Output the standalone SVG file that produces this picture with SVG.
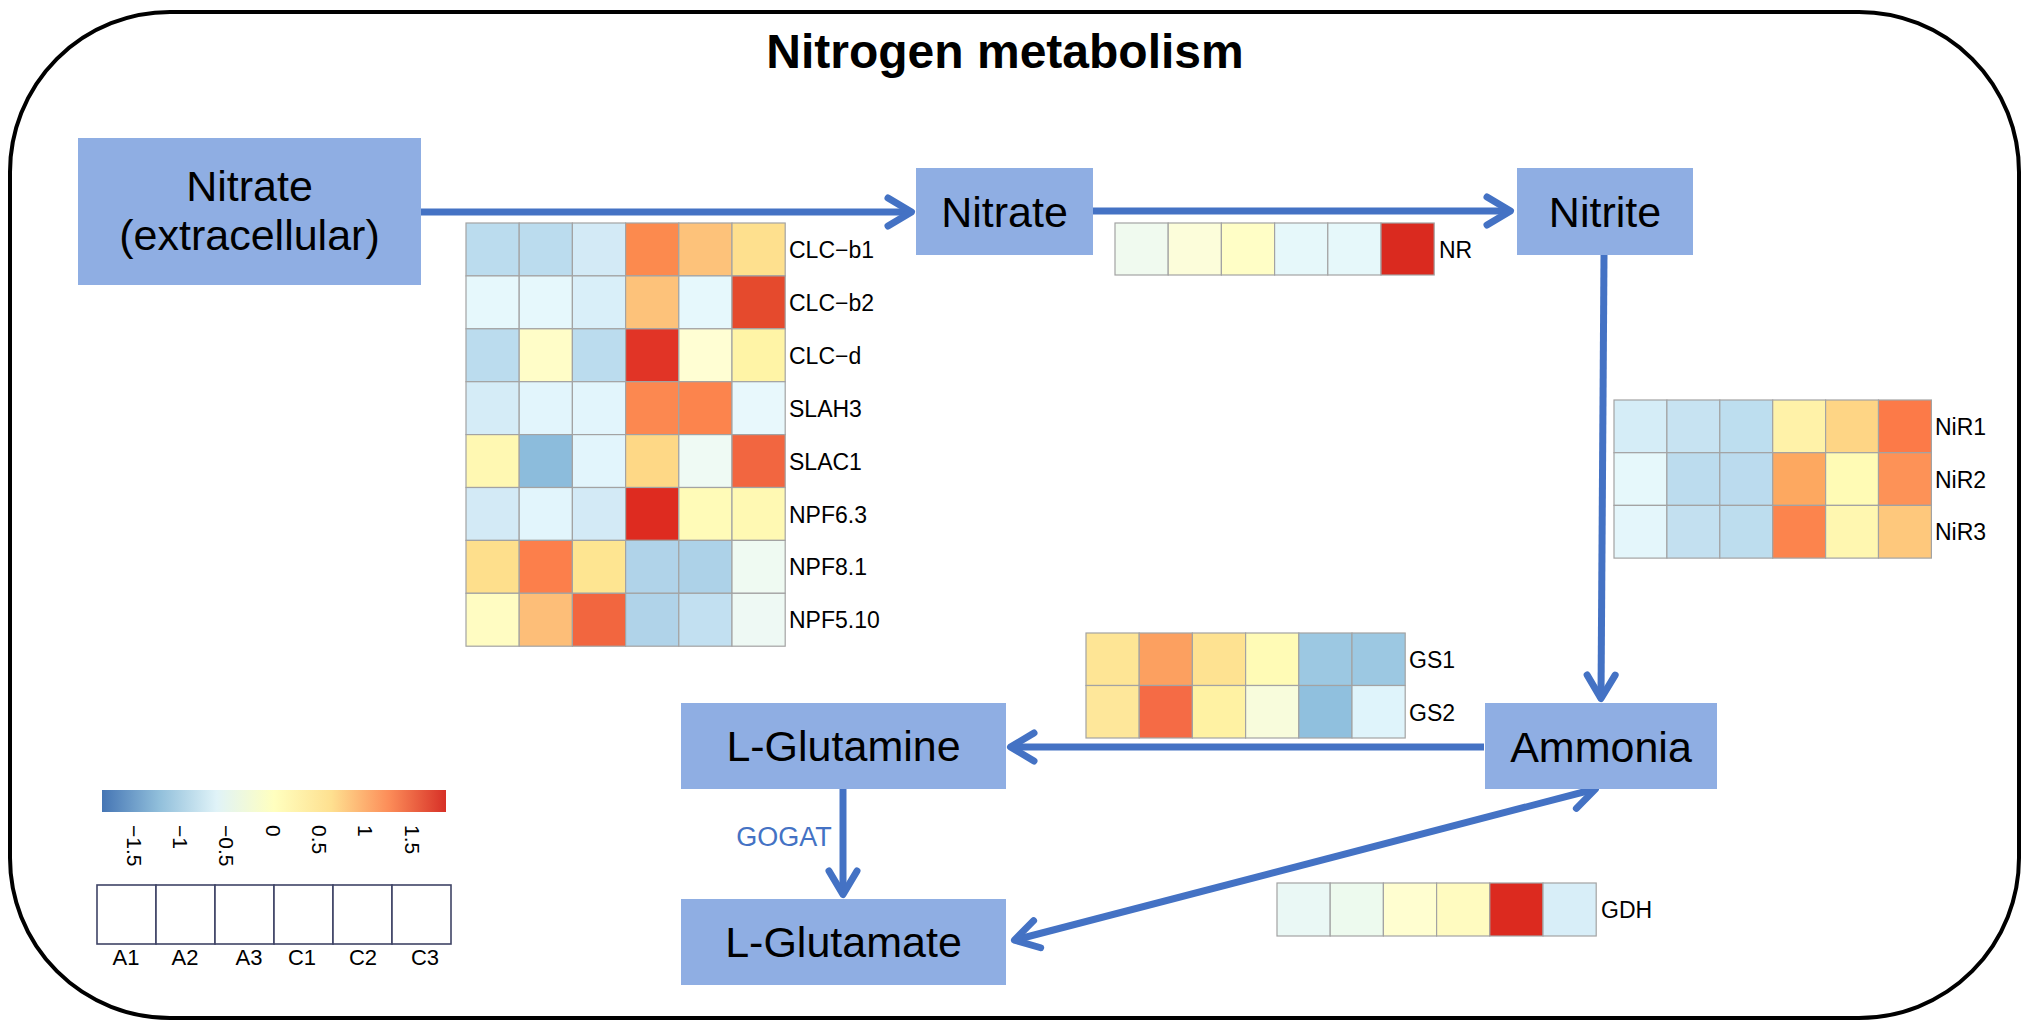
<svg xmlns="http://www.w3.org/2000/svg" width="2029" height="1027" viewBox="0 0 2029 1027">
<style>
.node{fill:#8FAEE3;}
.nt{font-family:"Liberation Sans",Arial,sans-serif;font-size:43px;fill:#000;text-anchor:middle;}
.lab{font-family:"Liberation Sans",Arial,sans-serif;font-size:23px;fill:#000;}
.tick{font-family:"Liberation Sans",Arial,sans-serif;font-size:21px;fill:#000;}
.sl{font-family:"Liberation Sans",Arial,sans-serif;font-size:22px;fill:#000;text-anchor:middle;}
.hm rect{stroke:#A3A3A3;stroke-width:1.2;}
.conn{fill:none;stroke:#4472C4;stroke-width:7;}
.lb rect{fill:#fff;stroke:#3F4466;stroke-width:1.6;}
</style>
<defs>
<marker id="arr" viewBox="-30 -20 40 40" refX="0" refY="0" markerWidth="40" markerHeight="40" markerUnits="userSpaceOnUse" orient="auto-start-reverse" overflow="visible">
<path d="M-21,-14 L2.5,0 L-21,14" fill="none" stroke="#4472C4" stroke-width="7" stroke-linecap="round" stroke-linejoin="round"/>
</marker>
<linearGradient id="cbar" x1="0" y1="0" x2="1" y2="0">
<stop offset="0" stop-color="#4575B4"/>
<stop offset="0.1667" stop-color="#91BFDB"/>
<stop offset="0.3333" stop-color="#E0F3F8"/>
<stop offset="0.5" stop-color="#FFFFBF"/>
<stop offset="0.6667" stop-color="#FEE090"/>
<stop offset="0.8333" stop-color="#FC8D59"/>
<stop offset="1" stop-color="#D73027"/>
</linearGradient>
</defs>
<rect x="0" y="0" width="2029" height="1027" fill="#fff"/>
<rect id="frame" x="10" y="12" width="2009" height="1006" rx="160" ry="160" fill="none" stroke="#000" stroke-width="4"/>
<text x="1005" y="68" font-family="Liberation Sans,Arial,sans-serif" font-size="48" font-weight="bold" text-anchor="middle">Nitrogen metabolism</text>

<g id="connectors">
<line class="conn" x1="421" y1="212" x2="909" y2="212" marker-end="url(#arr)"/>
<line class="conn" x1="1093" y1="211" x2="1508" y2="211" marker-end="url(#arr)"/>
<line class="conn" x1="1604" y1="255" x2="1601" y2="696" marker-end="url(#arr)"/>
<line class="conn" x1="1484" y1="747" x2="1013" y2="747" marker-end="url(#arr)"/>
<line class="conn" x1="843" y1="789" x2="843" y2="892" marker-end="url(#arr)"/>
<line class="conn" x1="1016.8" y1="939.5" x2="1593.2" y2="789.5" marker-start="url(#arr)" marker-end="url(#arr)"/>
<text x="784" y="846" font-family="Liberation Sans,Arial,sans-serif" font-size="27" fill="#4472C4" text-anchor="middle">GOGAT</text>
</g>

<g id="node-nitrate-ext">
<rect class="node" x="78" y="138" width="343" height="147"/>
<text class="nt" x="249.5" y="201" font-size="42">Nitrate</text>
<text class="nt" x="249.5" y="250" font-size="42">(extracellular)</text>
</g>
<g id="node-nitrate">
<rect class="node" x="916" y="168" width="177" height="87"/>
<text class="nt" x="1004.5" y="227">Nitrate</text>
</g>
<g id="node-nitrite">
<rect class="node" x="1517" y="168" width="176" height="87"/>
<text class="nt" x="1605" y="227">Nitrite</text>
</g>
<g id="node-ammonia">
<rect class="node" x="1485" y="703" width="232" height="86"/>
<text class="nt" x="1601" y="762">Ammonia</text>
</g>
<g id="node-glutamine">
<rect class="node" x="681" y="703" width="325" height="86"/>
<text class="nt" x="843.5" y="761">L-Glutamine</text>
</g>
<g id="node-glutamate">
<rect class="node" x="681" y="899" width="325" height="86"/>
<text class="nt" x="843.5" y="957">L-Glutamate</text>
</g>

<g id="heatmap-transporters" class="hm">
<rect x="466" y="223" width="53.2" height="52.9" fill="#BBDCEE"/>
<rect x="519.2" y="223" width="53.2" height="52.9" fill="#BBDCEE"/>
<rect x="572.4" y="223" width="53.2" height="52.9" fill="#D3EAF6"/>
<rect x="625.6" y="223" width="53.2" height="52.9" fill="#FC8A4E"/>
<rect x="678.8" y="223" width="53.2" height="52.9" fill="#FDC27A"/>
<rect x="732" y="223" width="53.2" height="52.9" fill="#FEE08E"/>

<rect x="466" y="275.9" width="53.2" height="52.9" fill="#E6F8FC"/>
<rect x="519.2" y="275.9" width="53.2" height="52.9" fill="#E6F8FC"/>
<rect x="572.4" y="275.9" width="53.2" height="52.9" fill="#D9EFF9"/>
<rect x="625.6" y="275.9" width="53.2" height="52.9" fill="#FDC27A"/>
<rect x="678.8" y="275.9" width="53.2" height="52.9" fill="#E6F8FC"/>
<rect x="732" y="275.9" width="53.2" height="52.9" fill="#E54A2D"/>

<rect x="466" y="328.8" width="53.2" height="52.9" fill="#BBDCEE"/>
<rect x="519.2" y="328.8" width="53.2" height="52.9" fill="#FFFDC8"/>
<rect x="572.4" y="328.8" width="53.2" height="52.9" fill="#BBDCEE"/>
<rect x="625.6" y="328.8" width="53.2" height="52.9" fill="#E13426"/>
<rect x="678.8" y="328.8" width="53.2" height="52.9" fill="#FFFED3"/>
<rect x="732" y="328.8" width="53.2" height="52.9" fill="#FFF4A6"/>

<rect x="466" y="381.7" width="53.2" height="52.9" fill="#D5ECF7"/>
<rect x="519.2" y="381.7" width="53.2" height="52.9" fill="#E2F5FC"/>
<rect x="572.4" y="381.7" width="53.2" height="52.9" fill="#E2F5FC"/>
<rect x="625.6" y="381.7" width="53.2" height="52.9" fill="#FC8850"/>
<rect x="678.8" y="381.7" width="53.2" height="52.9" fill="#FC844D"/>
<rect x="732" y="381.7" width="53.2" height="52.9" fill="#E8F8FC"/>

<rect x="466" y="434.6" width="53.2" height="52.9" fill="#FFF8B2"/>
<rect x="519.2" y="434.6" width="53.2" height="52.9" fill="#8CBCDC"/>
<rect x="572.4" y="434.6" width="53.2" height="52.9" fill="#E2F5FC"/>
<rect x="625.6" y="434.6" width="53.2" height="52.9" fill="#FED886"/>
<rect x="678.8" y="434.6" width="53.2" height="52.9" fill="#EFFAF4"/>
<rect x="732" y="434.6" width="53.2" height="52.9" fill="#F26640"/>

<rect x="466" y="487.5" width="53.2" height="52.9" fill="#D3EAF6"/>
<rect x="519.2" y="487.5" width="53.2" height="52.9" fill="#E2F5FC"/>
<rect x="572.4" y="487.5" width="53.2" height="52.9" fill="#D3EAF6"/>
<rect x="625.6" y="487.5" width="53.2" height="52.9" fill="#DE2B20"/>
<rect x="678.8" y="487.5" width="53.2" height="52.9" fill="#FFFBB8"/>
<rect x="732" y="487.5" width="53.2" height="52.9" fill="#FFF9B3"/>

<rect x="466" y="540.4" width="53.2" height="52.9" fill="#FEDF8C"/>
<rect x="519.2" y="540.4" width="53.2" height="52.9" fill="#FC7F4B"/>
<rect x="572.4" y="540.4" width="53.2" height="52.9" fill="#FEE591"/>
<rect x="625.6" y="540.4" width="53.2" height="52.9" fill="#B0D3E9"/>
<rect x="678.8" y="540.4" width="53.2" height="52.9" fill="#ADD2E8"/>
<rect x="732" y="540.4" width="53.2" height="52.9" fill="#EFFAF2"/>

<rect x="466" y="593.3" width="53.2" height="52.9" fill="#FFFCC2"/>
<rect x="519.2" y="593.3" width="53.2" height="52.9" fill="#FDBE78"/>
<rect x="572.4" y="593.3" width="53.2" height="52.9" fill="#F2663F"/>
<rect x="625.6" y="593.3" width="53.2" height="52.9" fill="#B0D3E9"/>
<rect x="678.8" y="593.3" width="53.2" height="52.9" fill="#C2E0F1"/>
<rect x="732" y="593.3" width="53.2" height="52.9" fill="#EEF9F4"/>
<text class="lab" x="789" y="258">CLC−b1</text>
<text class="lab" x="789" y="310.9">CLC−b2</text>
<text class="lab" x="789" y="363.8">CLC−d</text>
<text class="lab" x="789" y="416.7">SLAH3</text>
<text class="lab" x="789" y="469.6">SLAC1</text>
<text class="lab" x="789" y="522.5">NPF6.3</text>
<text class="lab" x="789" y="575.4">NPF8.1</text>
<text class="lab" x="789" y="628.3">NPF5.10</text>
</g>

<g id="heatmap-NR" class="hm">
<rect x="1115" y="223" width="53.2" height="52" fill="#F0FAEF"/>
<rect x="1168.2" y="223" width="53.2" height="52" fill="#FCFDDA"/>
<rect x="1221.4" y="223" width="53.2" height="52" fill="#FFFEC6"/>
<rect x="1274.6" y="223" width="53.2" height="52" fill="#E6F8FA"/>
<rect x="1327.8" y="223" width="53.2" height="52" fill="#E6F8FA"/>
<rect x="1381" y="223" width="53.2" height="52" fill="#DA2A1F"/>
<text class="lab" x="1439" y="257.5">NR</text>
</g>

<g id="heatmap-NiR" class="hm">
<rect x="1614" y="400" width="52.9" height="52.7" fill="#D5EDF7"/>
<rect x="1666.9" y="400" width="52.9" height="52.7" fill="#C7E3F2"/>
<rect x="1719.8" y="400" width="52.9" height="52.7" fill="#BDDEEF"/>
<rect x="1772.7" y="400" width="52.9" height="52.7" fill="#FFF2A8"/>
<rect x="1825.6" y="400" width="52.9" height="52.7" fill="#FED585"/>
<rect x="1878.5" y="400" width="52.9" height="52.7" fill="#FC7A48"/>

<rect x="1614" y="452.7" width="52.9" height="52.7" fill="#E6F8FB"/>
<rect x="1666.9" y="452.7" width="52.9" height="52.7" fill="#BCDCEE"/>
<rect x="1719.8" y="452.7" width="52.9" height="52.7" fill="#BBDBEE"/>
<rect x="1772.7" y="452.7" width="52.9" height="52.7" fill="#FDA860"/>
<rect x="1825.6" y="452.7" width="52.9" height="52.7" fill="#FFFBB5"/>
<rect x="1878.5" y="452.7" width="52.9" height="52.7" fill="#FD9257"/>

<rect x="1614" y="505.4" width="52.9" height="52.7" fill="#E4F6FB"/>
<rect x="1666.9" y="505.4" width="52.9" height="52.7" fill="#C3E0F0"/>
<rect x="1719.8" y="505.4" width="52.9" height="52.7" fill="#BDDDEE"/>
<rect x="1772.7" y="505.4" width="52.9" height="52.7" fill="#FC844D"/>
<rect x="1825.6" y="505.4" width="52.9" height="52.7" fill="#FFF7B0"/>
<rect x="1878.5" y="505.4" width="52.9" height="52.7" fill="#FEC87C"/>
<text class="lab" x="1935" y="434.8">NiR1</text>
<text class="lab" x="1935" y="487.5">NiR2</text>
<text class="lab" x="1935" y="540.2">NiR3</text>
</g>

<g id="heatmap-GS" class="hm">
<rect x="1086" y="633" width="53.2" height="52.5" fill="#FEE595"/>
<rect x="1139.2" y="633" width="53.2" height="52.5" fill="#FCA060"/>
<rect x="1192.4" y="633" width="53.2" height="52.5" fill="#FEE291"/>
<rect x="1245.6" y="633" width="53.2" height="52.5" fill="#FFFBB6"/>
<rect x="1298.8" y="633" width="53.2" height="52.5" fill="#9CC8E2"/>
<rect x="1352" y="633" width="53.2" height="52.5" fill="#9CC8E2"/>

<rect x="1086" y="685.5" width="53.2" height="52.5" fill="#FEE79A"/>
<rect x="1139.2" y="685.5" width="53.2" height="52.5" fill="#F56B45"/>
<rect x="1192.4" y="685.5" width="53.2" height="52.5" fill="#FFF2A3"/>
<rect x="1245.6" y="685.5" width="53.2" height="52.5" fill="#F8FCDC"/>
<rect x="1298.8" y="685.5" width="53.2" height="52.5" fill="#90C0DE"/>
<rect x="1352" y="685.5" width="53.2" height="52.5" fill="#DFF4FB"/>
<text class="lab" x="1409" y="667.5">GS1</text>
<text class="lab" x="1409" y="720.5">GS2</text>
</g>

<g id="heatmap-GDH" class="hm">
<rect x="1277" y="883" width="53.2" height="53" fill="#EAF8F5"/>
<rect x="1330.2" y="883" width="53.2" height="53" fill="#EDFAEE"/>
<rect x="1383.4" y="883" width="53.2" height="53" fill="#FFFED0"/>
<rect x="1436.6" y="883" width="53.2" height="53" fill="#FFFBC0"/>
<rect x="1489.8" y="883" width="53.2" height="53" fill="#DC2A1F"/>
<rect x="1543" y="883" width="53.2" height="53" fill="#D8EEF8"/>
<text class="lab" x="1601" y="918">GDH</text>
</g>

<g id="legend">
<rect x="102" y="790" width="344" height="22" fill="url(#cbar)"/>
<text class="tick" transform="translate(126.5,825) rotate(90)">−1.5</text>
<text class="tick" transform="translate(172.8,825) rotate(90)">−1</text>
<text class="tick" transform="translate(219.2,825) rotate(90)">−0.5</text>
<text class="tick" transform="translate(265.5,825) rotate(90)">0</text>
<text class="tick" transform="translate(311.8,825) rotate(90)">0.5</text>
<text class="tick" transform="translate(358.2,825) rotate(90)">1</text>
<text class="tick" transform="translate(404.5,825) rotate(90)">1.5</text>
<g class="lb">
<rect x="97" y="885" width="59" height="59"/>
<rect x="156" y="885" width="59" height="59"/>
<rect x="215" y="885" width="59" height="59"/>
<rect x="274" y="885" width="59" height="59"/>
<rect x="333" y="885" width="59" height="59"/>
<rect x="392" y="885" width="59" height="59"/>
</g>
<text class="sl" x="126" y="965">A1</text>
<text class="sl" x="185" y="965">A2</text>
<text class="sl" x="249" y="965">A3</text>
<text class="sl" x="302" y="965">C1</text>
<text class="sl" x="363" y="965">C2</text>
<text class="sl" x="425" y="965">C3</text>
</g>
</svg>
